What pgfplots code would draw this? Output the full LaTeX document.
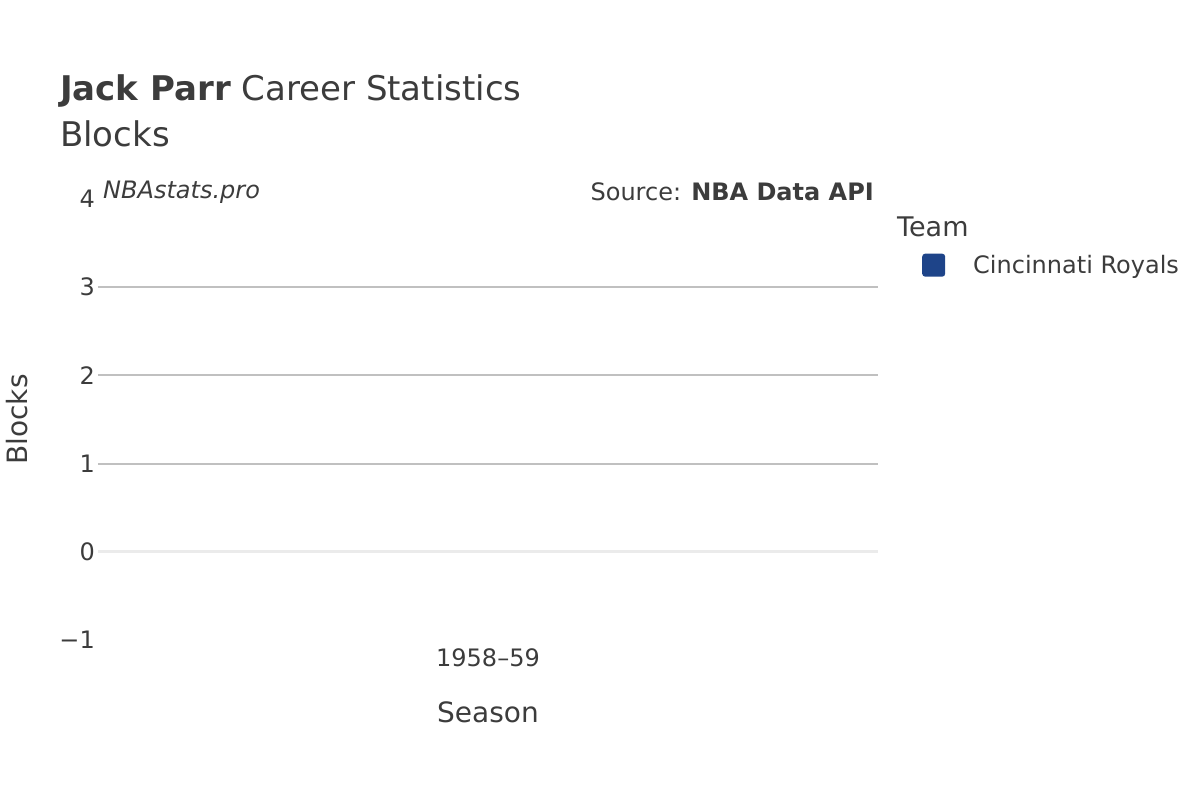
\documentclass[border=0pt]{standalone}
\usepackage{pgfplots}
\pgfplotsset{compat=1.18}
\usepackage{fontspec}
\setmainfont{DejaVu Sans}

\definecolor{txt}{HTML}{3C3C3C}
\definecolor{gridc}{HTML}{C0C0C0}
\definecolor{zeroc}{HTML}{EBEBEB}
\definecolor{royals}{HTML}{1E4489}

\begin{document}
\begin{tikzpicture}
\path[use as bounding box] (0pt,0pt) rectangle (1200pt,-800pt);

% titles and notes
\node[anchor=west,text=txt,inner sep=0,font=\fontsize{34}{39}\selectfont] at (60pt,-91pt) {\textbf{Jack Parr} Career Statistics};
\node[anchor=west,text=txt,inner sep=0,font=\fontsize{34}{39}\selectfont] at (60pt,-134pt) {Blocks};
\node[anchor=west,text=txt,inner sep=0,font=\fontsize{24}{28}\selectfont\itshape] at (103pt,-192pt) {NBAstats.pro};
\node[anchor=east,text=txt,inner sep=0,font=\fontsize{24}{28}\selectfont] at (874pt,-192pt) {Source: \textbf{NBA Data API}};
\node[anchor=west,text=txt,inner sep=0,font=\fontsize{27}{32}\selectfont] at (897pt,-227pt) {Team};

\begin{axis}[
    at={(98pt,-640pt)}, anchor=south west,
    scale only axis,
    width=780pt, height=441pt,
    xmin=-1, xmax=1,
    ymin=-1, ymax=4,
    axis line style={draw=none},
    major tick length=0pt,
    xtick={0}, xticklabels={1958–59},
    ytick={-1,0,1,2,3,4}, yticklabels={−1,0,1,2,3,4},
    extra y ticks={1,2,3}, extra y tick labels={},
    extra y tick style={grid=major, major grid style={gridc, line width=2pt}},
    tick label style={text=txt, font=\fontsize{24}{28}\selectfont},
    yticklabel style={anchor=east, inner sep=0pt, xshift=-3pt},
    xticklabel style={anchor=center, inner sep=0pt, yshift=-18pt},
    xlabel={Season}, ylabel={Blocks},
    label style={text=txt, font=\fontsize{28}{32}\selectfont},
    xlabel style={at={(rel axis cs:0.5,-0.163)}, anchor=center},
    ylabel style={at={(rel axis cs:-0.104,0.5)}, anchor=center},
    legend style={at={(rel axis cs:1.0564,0.850)}, anchor=west, draw=none, fill=none,
        inner sep=0pt, text=txt, font=\fontsize{24}{28}\selectfont,
        column sep=0pt, nodes={inner sep=0pt}},
    legend cell align=left,
    legend image code/.code={\fill[royals, fill opacity=1, rounded corners=3pt] (0pt,-11.5pt) rectangle (23pt,11.5pt); \path (51pt,0pt);},
    clip=false,
]
\draw[zeroc, line width=3pt] (rel axis cs:0,0.2) -- (rel axis cs:1,0.2);
\addplot[ybar, bar width=200pt, fill=royals, fill opacity=0, draw=none] coordinates {(0,0)};
\addlegendentry{Cincinnati Royals}
\end{axis}
\end{tikzpicture}
\end{document}
